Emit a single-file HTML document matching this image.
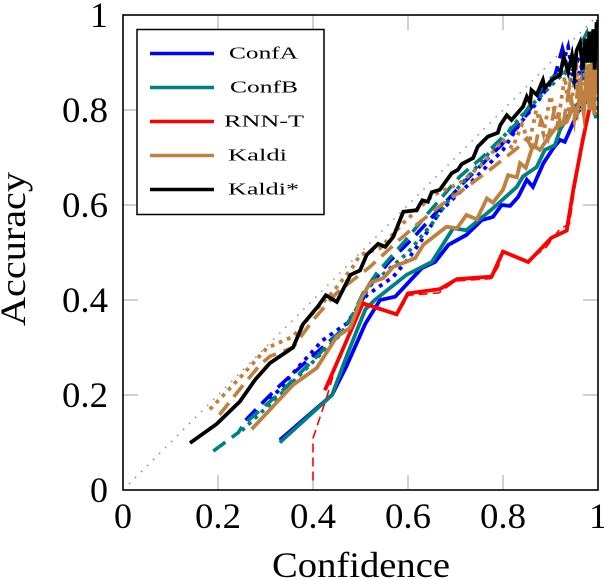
<!DOCTYPE html>
<html>
<head>
<meta charset="utf-8">
<title>Accuracy vs Confidence</title>
<style>
html,body{margin:0;padding:0;background:#fff;width:604px;height:580px;overflow:hidden}
svg{display:block}
text{font-family:"Liberation Serif",serif;fill:#000}
</style>
</head>
<body>
<svg id="chart" xmlns="http://www.w3.org/2000/svg" width="604" height="580" viewBox="0 0 604 580"></svg>
<script>
const xTicks = [0, 0.2, 0.4, 0.6, 0.8, 1];
const yTicks = [0, 0.2, 0.4, 0.6, 0.8, 1];
const xTickLabels = ["0", "0.2", "0.4", "0.6", "0.8", "1"];
const yTickLabels = ["0", "0.2", "0.4", "0.6", "0.8", "1"];
const legendLabels = ["ConfA", "ConfB", "RNN-T", "Kaldi", "Kaldi*"];
const diagonal = [[0, 0], [1, 1]];

const confASolid = [[.33,.105],[.44,.2],[.47,.26],[.51,.35],[.541,.40],[.573,.407],[.6,.436],[.629,.467],[.657,.48],[.685,.516],[.723,.537],[.755,.568],[.779,.575],[.797,.60],[.815,.598],[.832,.617],[.85,.653],[.863,.638],[.885,.688],[.906,.72],[.92,.737],[.93,.733],[.958,.796],[.983,.828],[.994,.863],[1,.96]];
const confADashed = [[.258,.147],[.29,.18],[.33,.22],[.38,.265],[.42,.30],[.46,.335],[.49,.375],[.52,.43],[.56,.48],[.61,.53],[.66,.585],[.71,.64],[.76,.69],[.8,.73],[.84,.775],[.875,.83],[.91,.875],[.925,.93],[.94,.87],[.96,.91],[.975,.85],[.99,.95],[1,.98]];
const confADotted = [[.31,.19],[.37,.26],[.42,.315],[.47,.35],[.513,.41],[.569,.449],[.604,.491],[.639,.541],[.667,.586],[.703,.621],[.731,.646],[.8,.716],[.836,.772],[.871,.815],[.92,.884],[.937,.933],[.95,.85],[.975,.92],[.985,.82],[1,.99]];

const confBSolid = [[.33,.1],[.44,.2],[.47,.28],[.51,.38],[.53,.40],[.597,.453],[.65,.48],[.695,.551],[.723,.547],[.779,.593],[.829,.638],[.842,.66],[.871,.68],[.888,.716],[.909,.726],[.92,.758],[.948,.804],[.965,.82],[.99,.857],[1,.95]];
const confBDashed = [[.19,.082],[.243,.121],[.253,.137],[.33,.204],[.408,.281],[.45,.326],[.48,.36],[.505,.414],[.534,.456],[.59,.52],[.639,.579],[.709,.66],[.758,.702],[.779,.723],[.836,.779],[.892,.863],[.93,.88],[.955,.92],[.976,.962],[.985,.88],[1,.98]];
const confBDotted = [[.25,.125],[.33,.2],[.40,.27],[.46,.33],[.52,.43],[.6,.5],[.65,.56],[.7,.63],[.78,.72],[.85,.8],[.93,.88],[.96,.84],[.98,.93],[.995,.78],[1,.97]];

const rnnSolid = [[.425,.21],[.505,.393],[.576,.37],[.60,.414],[.667,.423],[.703,.444],[.776,.449],[.80,.502],[.853,.48],[.902,.531],[.934,.546],[.948,.632],[.968,.737],[1,.888]];
const rnnDashed = [[.40,.02],[.40,.109],[.429,.196],[.446,.253],[.505,.39],[.57,.37],[.59,.39],[.60,.41],[.665,.415],[.70,.44],[.775,.445],[.79,.47],[.80,.5],[.835,.487],[.85,.48],[.87,.495],[.89,.51],[.905,.53],[.92,.55],[.94,.56],[.95,.63],[.97,.74],[1,.89]];

const kaldiSolid = [[.271,.128],[.358,.221],[.408,.257],[.45,.323],[.478,.341],[.502,.404],[.52,.436],[.548,.446],[.569,.47],[.615,.488],[.632,.516],[.681,.554],[.703,.551],[.723,.579],[.745,.57],[.766,.614],[.779,.605],[.80,.632],[.811,.663],[.829,.658],[.836,.688],[.848,.678],[.863,.726],[.878,.716],[.892,.737],[.913,.765],[.934,.775],[.948,.807],[.956,.79],[.964,.85],[.97,.79],[.976,.88],[.982,.8],[.988,.91],[.992,.79],[.996,.93],[1,.85]];
const kaldiDashed = [[.203,.158],[.253,.221],[.288,.263],[.309,.281],[.358,.30],[.40,.358],[.45,.415],[.484,.442],[.52,.47],[.58,.525],[.62,.56],[.67,.60],[.72,.635],[.78,.68],[.83,.72],[.85,.74],[.865,.71],[.88,.78],[.895,.74],[.91,.81],[.925,.76],[.94,.85],[.95,.78],[.96,.87],[.97,.79],[.98,.9],[.987,.8],[.993,.93],[1,.82]];
const kaldiDotted = [[.183,.17],[.246,.236],[.303,.299],[.358,.323],[.40,.373],[.442,.417],[.484,.47],[.499,.495],[.541,.509],[.59,.562],[.653,.621],[.709,.646],[.758,.688],[.80,.737],[.82,.72],[.84,.77],[.855,.73],[.87,.8],[.885,.75],[.9,.83],[.915,.77],[.93,.87],[.94,.79],[.955,.89],[.965,.8],[.975,.92],[.985,.81],[.992,.94],[1,.84]];

const kaldiStarSolid = [[.141,.099],[.197,.139],[.246,.186],[.278,.232],[.309,.267],[.358,.30],[.379,.349],[.41,.386],[.427,.41],[.45,.396],[.479,.453],[.499,.462],[.513,.495],[.537,.518],[.552,.512],[.569,.533],[.59,.586],[.618,.589],[.63,.61],[.642,.607],[.65,.627],[.667,.632],[.692,.667],[.705,.674],[.713,.686],[.737,.699],[.747,.723],[.768,.744],[.789,.752],[.794,.768],[.808,.789],[.818,.779],[.842,.807],[.85,.828],[.857,.815],[.86,.842],[.871,.832],[.884,.863],[.888,.846],[.902,.863],[.92,.874],[.928,.912],[.937,.88],[.945,.915],[.95,.875],[.955,.925],[.962,.941],[.968,.885],[.973,.95],[.977,.9],[.982,.965],[.986,.9],[.99,.97],[.993,.885],[.997,.985],[1,.93]];

const seriesColors = { a: "#0000ff", b: "#008080", r: "#ff0000", k: "#bf8040", s: "#000000" };
const svgNS = "http://www.w3.org/2000/svg";
const chart = document.getElementById("chart");
const plotLeft = 123, plotRight = 598, plotTop = 15, plotBottom = 490;
function xScale(v) { return plotLeft + v * (plotRight - plotLeft); }
function yScale(v) { return plotBottom - v * (plotBottom - plotTop); }

const clipDefs = document.createElementNS(svgNS, "defs");
clipDefs.innerHTML = '<clipPath id="plot-clip"><rect x="123" y="15" width="475" height="475"/></clipPath>';
chart.appendChild(clipDefs);

const seriesLayer = document.createElementNS(svgNS, "g");
seriesLayer.setAttribute("clip-path", "url(#plot-clip)");


chart.appendChild(seriesLayer);

function drawLine(points, color, width, dash, name) {
  const line = document.createElementNS(svgNS, "polyline");
  line.setAttribute("points", points.map(p => xScale(p[0]).toFixed(1) + "," + yScale(p[1]).toFixed(1)).join(" "));
  line.setAttribute("fill", "none");
  line.setAttribute("stroke", color);
  line.setAttribute("stroke-width", width);
  line.setAttribute("stroke-linejoin", "miter");
  line.setAttribute("stroke-miterlimit", "10");
  if (dash) line.setAttribute("stroke-dasharray", dash);
  
  
  seriesLayer.appendChild(line);
}

function tickLine(x1, y1, x2, y2, name) {
  const t = document.createElementNS(svgNS, "line");
  t.setAttribute("x1", x1);
  t.setAttribute("y1", y1);
  t.setAttribute("x2", x2);
  t.setAttribute("y2", y2);
  t.setAttribute("stroke", "#a8a8a8");
  t.setAttribute("stroke-width", "1.1");
  
  
  chart.insertBefore(t, seriesLayer);
}

function addText(str, x, y, size, anchor, len, name, rotate) {
  const t = document.createElementNS(svgNS, "text");
  t.setAttribute("x", x);
  t.setAttribute("y", y);
  t.setAttribute("font-size", size);
  t.setAttribute("text-anchor", anchor);
  if (len) {
    t.setAttribute("textLength", len);
    t.setAttribute("lengthAdjust", "spacingAndGlyphs");
  }
  if (rotate) t.setAttribute("transform", rotate);
  
  
  t.textContent = str;
  chart.appendChild(t);
}

xTicks.forEach((v, i) => {
  if (v > 0 && v < 1) {
    tickLine(xScale(v), plotBottom, xScale(v), plotBottom - 15, "x-tick-bottom");
    tickLine(xScale(v), plotTop, xScale(v), plotTop + 15, "x-tick-top");
  }
  addText(xTickLabels[i], xScale(v), 528, 36, "middle", xTickLabels[i].length > 1 ? 46 : null, "x-tick-label");
});
yTicks.forEach((v, i) => {
  if (v > 0 && v < 1) {
    tickLine(plotLeft, yScale(v), plotLeft + 15, yScale(v), "y-tick-left");
    tickLine(plotRight, yScale(v), plotRight - 15, yScale(v), "y-tick-right");
  }
  addText(yTickLabels[i], 108, yScale(v) + 12, 36, "end", yTickLabels[i].length > 1 ? 46 : null, "y-tick-label");
});

const dashStyle = "15 8";
const dotStyle = "3.8 5";
drawLine(diagonal, "#8c8c8c", 1.5, "1.5 7", "perfect-calibration-diagonal");
drawLine(confADashed, seriesColors.a, 3.6, dashStyle, "confa-dashed-line");
drawLine(confADotted, seriesColors.a, 3.8, dotStyle, "confa-dotted-line");
drawLine(confASolid, seriesColors.a, 3.8, null, "confa-solid-line");
drawLine(confBDashed, seriesColors.b, 3.6, dashStyle, "confb-dashed-line");
drawLine(confBDotted, seriesColors.b, 3.8, dotStyle, "confb-dotted-line");
drawLine(confBSolid, seriesColors.b, 3.8, null, "confb-solid-line");
drawLine(rnnDashed, seriesColors.r, 1.6, "9 5", "rnn-t-dashed-line");
drawLine(rnnSolid, seriesColors.r, 3.8, null, "rnn-t-solid-line");
drawLine(kaldiDashed, seriesColors.k, 3.6, dashStyle, "kaldi-dashed-line");
drawLine(kaldiDotted, seriesColors.k, 3.8, dotStyle, "kaldi-dotted-line");
drawLine(kaldiSolid, seriesColors.k, 3.8, null, "kaldi-solid-line");
drawLine(kaldiStarSolid, seriesColors.s, 3.8, null, "kaldi-star-solid-line");

const frame = document.createElementNS(svgNS, "rect");
frame.setAttribute("x", plotLeft);
frame.setAttribute("y", plotTop);
frame.setAttribute("width", plotRight - plotLeft);
frame.setAttribute("height", plotBottom - plotTop);
frame.setAttribute("fill", "none");
frame.setAttribute("stroke", "#000");
frame.setAttribute("stroke-width", "1.6");


chart.appendChild(frame);

addText("Confidence", 361, 577, 36, "middle", 178, "x-axis-title");
addText("Accuracy", 0, 0, 36, "middle", 154, "y-axis-title", "translate(25 249) rotate(-90)");

const legendBox = document.createElementNS(svgNS, "rect");
legendBox.setAttribute("x", 137);
legendBox.setAttribute("y", 29.5);
legendBox.setAttribute("width", 187);
legendBox.setAttribute("height", 185);
legendBox.setAttribute("fill", "#fff");
legendBox.setAttribute("stroke", "#000");
legendBox.setAttribute("stroke-width", "1.5");


chart.appendChild(legendBox);

const legendColors = [seriesColors.a, seriesColors.b, seriesColors.r, seriesColors.k, seriesColors.s];
const legendStarts = [229, 230, 224, 228, 228];
const legendWidths = [69, 68, 80, 59, 71];
legendLabels.forEach((label, i) => {
  const rowY = 53.5 + i * 34;
  const swatch = document.createElementNS(svgNS, "line");
  swatch.setAttribute("x1", 150);
  swatch.setAttribute("x2", 214);
  swatch.setAttribute("y1", rowY);
  swatch.setAttribute("y2", rowY);
  swatch.setAttribute("stroke", legendColors[i]);
  swatch.setAttribute("stroke-width", "3.4");
  
  
  chart.appendChild(swatch);
  addText(label, legendStarts[i], rowY + 5, 17, "start", legendWidths[i], "legend-entry");
});
</script>
</body>
</html>
